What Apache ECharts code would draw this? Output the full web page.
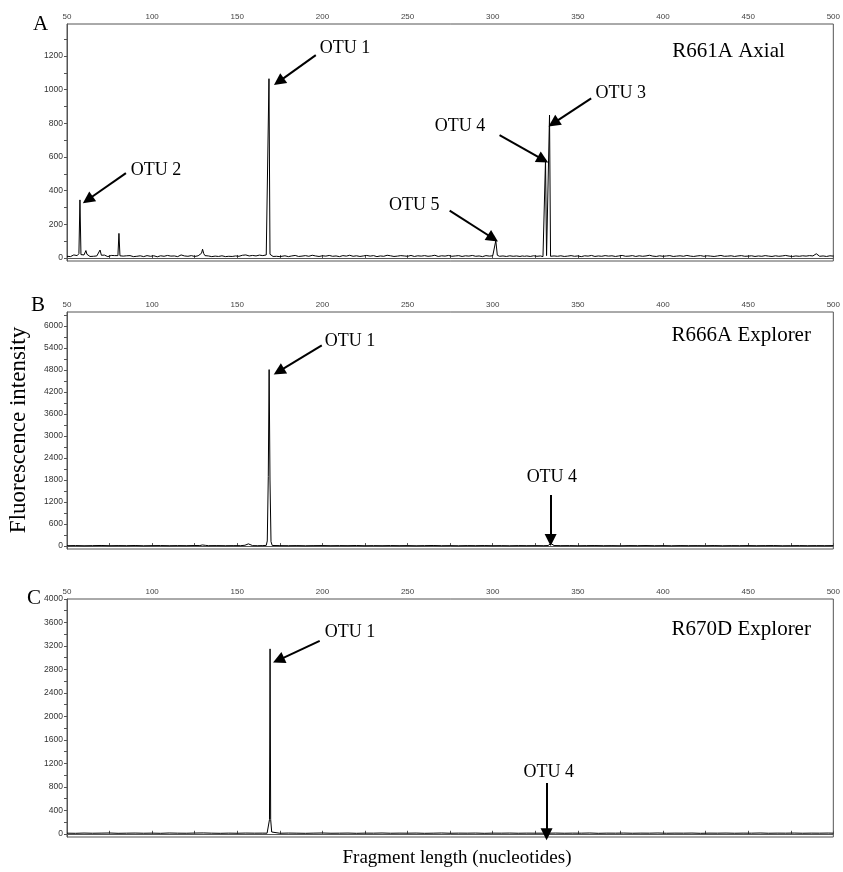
<!DOCTYPE html>
<html><head><meta charset="utf-8">
<script src="https://cdn.jsdelivr.net/npm/echarts@6/dist/echarts.min.js"></script>
<style>html,body{margin:0;padding:0;background:#fff}#c{width:843px;height:872px}</style>
</head><body><div id="c"></div><script>
// ---- data (fragment length in nt, fluorescence intensity) ----
const xTickValues = [50,75,100,125,150,175,200,225,250,275,300,325,350,375,400,425,450,475,500];
const xLabelValues = [50,100,150,200,250,300,350,400,450,500];
const yLabelsA = [0,200,400,600,800,1000,1200];
const yTicksA = [0,100,200,300,400,500,600,700,800,900,1000,1100,1200,1300];
const yLabelsB = [0,600,1200,1800,2400,3000,3600,4200,4800,5400,6000];
const yTicksB = [0,300,600,900,1200,1500,1800,2100,2400,2700,3000,3300,3600,3900,4200,4500,4800,5100,5400,5700,6000,6300];
const yLabelsC = [0,400,800,1200,1600,2000,2400,2800,3200,3600,4000];
const yTicksC = [0,200,400,600,800,1000,1200,1400,1600,1800,2000,2200,2400,2600,2800,3000,3200,3400,3600,3800,4000];

const traceA = [[50,10],[51,16],[52,8],[53,12],[54,18],[55,10],[56,14],[57,26],[57.6,345],[58.2,20],[59,12],[60,18],[60.6,28],[61.1,44],[61.7,22],[62.5,12],[63.5,9],[64.5,15],[65.5,10],[66.5,18],[67.5,12],[68.6,20],[69.4,47],[70.2,16],[71,10],[72,17],[73,12],[74,8],[75,18],[76,15],[77,10],[78,14],[79,9],[79.9,14],[80.5,146],[81.1,13],[82,7],[83,11],[84,9],[85,13],[86,10],[87,14],[88,11],[89,8],[90,14],[91,10],[92,9],[93,13],[94,12],[95,8],[96,11],[97,14],[98,16],[99,10],[100,9],[101,13],[102,11],[103,7],[104,9],[105,13],[106,14],[107,10],[108,11],[109,15],[110,16],[111,11],[112,9],[113,12],[114,12],[115,8],[116,9],[117,18],[118,9],[119,12],[120,13],[121,10],[122,11],[123,14],[124,13],[125,9],[126,10],[127,13],[128,20],[129,28],[129.6,52],[130.3,26],[131,14],[132,9],[133,12],[134,11],[135,8],[136,7],[137,11],[138,11],[139,9],[140,9],[141,13],[142,12],[143,8],[144,7],[145,10],[146,11],[147,9],[148,9],[149,12],[150,13],[151,10],[152,11],[153,16],[154,20],[155,18],[156,14],[157,12],[158,11],[159,15],[160,16],[161,12],[162,13],[163,17],[164,18],[165,14],[166,15],[167,18],[168,26],[168.6,1065],[169.2,22],[170,11],[171,9],[172,7],[173,10],[174,12],[175,8],[176,10],[178,13],[180,8],[182,12],[184,15],[186,9],[188,11],[190,14],[192,10],[194,16],[196,12],[198,9],[200,13],[202,11],[204,15],[206,10],[208,12],[210,8],[212,14],[214,11],[216,16],[218,10],[220,13],[222,9],[224,12],[226,15],[228,11],[230,14],[232,8],[234,12],[236,10],[238,16],[240,13],[242,9],[244,11],[246,14],[248,12],[250,10],[252,15],[254,9],[256,13],[258,11],[260,14],[262,10],[264,12],[266,16],[268,9],[270,13],[272,11],[274,15],[276,10],[278,12],[280,14],[282,9],[284,13],[286,11],[288,15],[290,10],[292,12],[294,8],[296,14],[298,11],[300,13],[300.9,18],[301.8,103],[302.7,16],[304,10],[306,12],[308,9],[310,13],[312,10],[314,12],[316,9],[317.3,12],[318,22],[318.7,10],[320,12],[322,9],[324,13],[326,10],[328,12],[329.5,8],[330.4,12],[331,586],[331.6,14],[332.2,6],[332.75,14],[333.35,849],[333.95,10],[334.6,6],[336,12],[338,10],[340,13],[342,9],[344,11],[346,14],[348,10],[350,12],[352,8],[354,13],[356,11],[358,15],[360,9],[362,12],[364,10],[366,14],[368,11],[370,13],[372,9],[374,12],[376,15],[378,10],[380,11],[382,14],[384,9],[386,13],[388,10],[390,12],[392,16],[394,11],[396,9],[398,13],[400,10],[402,12],[404,14],[406,9],[408,11],[410,13],[412,10],[414,15],[416,11],[418,9],[420,12],[422,14],[424,10],[426,13],[428,11],[430,9],[432,12],[434,15],[436,10],[438,11],[440,13],[442,9],[444,12],[446,14],[448,10],[450,11],[452,13],[454,9],[456,12],[458,10],[460,14],[462,11],[464,9],[466,13],[468,10],[470,12],[472,15],[474,11],[476,9],[478,12],[480,10],[482,13],[484,11],[486,14],[488,12],[489,18],[490,25],[491,14],[492,10],[494,12],[496,9],[498,13],[500,11]];

const traceB = [[50,10],[55,14],[60,9],[65,12],[70,16],[75,10],[80,13],[85,11],[90,15],[95,9],[100,12],[105,14],[110,10],[115,13],[120,11],[125,15],[128,14],[129.5,30],[130.3,45],[131.2,20],[133,11],[138,13],[143,10],[148,12],[152,11],[154.5,22],[155.6,55],[156.5,60],[157.5,24],[159,12],[162,10],[165,13],[167,18],[167.6,140],[168.2,1900],[168.7,4810],[169.2,1800],[169.8,120],[170.5,16],[175,12],[180,10],[185,13],[190,9],[195,12],[200,14],[205,10],[210,13],[215,11],[220,15],[225,9],[230,12],[235,10],[240,14],[245,11],[250,13],[255,9],[260,12],[265,15],[270,10],[275,12],[280,9],[285,13],[290,11],[295,14],[300,10],[305,12],[310,9],[315,13],[320,11],[325,12],[330,10],[332.5,14],[333.5,45],[334.2,70],[335,40],[336,14],[340,11],[345,13],[350,9],[355,12],[360,14],[365,10],[370,12],[375,9],[380,13],[385,11],[390,14],[395,10],[400,12],[405,9],[410,13],[415,11],[420,12],[425,10],[430,14],[435,9],[440,12],[445,11],[450,13],[455,10],[460,12],[465,14],[470,9],[475,11],[480,13],[485,10],[490,12],[495,11],[500,13]];

const traceC = [[50,10],[55,8],[60,12],[65,9],[70,11],[75,13],[80,8],[85,10],[90,12],[95,9],[100,11],[105,8],[110,13],[115,10],[120,9],[125,12],[130,14],[135,10],[140,8],[145,11],[150,9],[155,12],[160,10],[165,11],[167.5,10],[168.3,40],[168.9,240],[169.25,3150],[169.6,240],[170.2,30],[171,10],[175,9],[180,12],[185,10],[190,8],[195,11],[200,13],[205,9],[210,10],[215,12],[220,8],[225,11],[230,10],[235,13],[240,9],[245,11],[250,10],[255,12],[260,8],[265,10],[270,13],[275,9],[280,11],[285,10],[290,12],[295,8],[300,11],[305,10],[310,12],[315,9],[320,11],[325,10],[330.5,10],[331.2,25],[331.7,35],[332.3,22],[333,10],[337,12],[342,9],[347,11],[352,10],[357,13],[362,8],[367,11],[372,10],[377,12],[382,9],[387,11],[392,10],[397,13],[402,9],[407,11],[412,10],[417,12],[422,8],[427,11],[432,10],[437,12],[442,9],[447,11],[452,10],[457,13],[462,9],[467,11],[472,10],[477,12],[482,9],[487,11],[492,10],[497,12],[500,10]];

// annotation text / arrow anchors in data coordinates
const annotA = [
  {text:'OTU 1', at:[198.4,1246], from:[196.1,1205], to:[174.4,1048]},
  {text:'OTU 2', at:[87.4,522], from:[84.6,504], to:[62.2,346]},
  {text:'OTU 5', at:[239.1,315], from:[274.7,281], to:[300.1,117]},
  {text:'OTU 4', at:[265.9,783], from:[304.0,730], to:[329.5,584]},
  {text:'OTU 3', at:[360.4,977], from:[357.8,948], to:[335.7,801]}
];
const annotB = [
  {text:'OTU 1', at:[201.4,5581], from:[199.6,5472], to:[174.4,4761]},
  {text:'OTU 4', at:[319.9,1888], from:[334.0,1395], to:[334.0,164]}
];
const annotC = [
  {text:'OTU 1', at:[201.4,3425], from:[198.4,3288], to:[174.2,2960]},
  {text:'OTU 4', at:[318.1,1053], from:[331.6,865], to:[331.6,-10]}
];
const panelNames = ['R661A Axial','R666A Explorer','R670D Explorer'];
const panelNamePos = [[405.4,1224],[405.0,5746],[405.0,3476]];
const panelLetters = ['A','B','C'];

// ---- chart ----
const chart = echarts.init(document.getElementById('c'), null, {renderer:'canvas'});
const grids = [
  {left:67, top:24, width:767, height:237},
  {left:67, top:312, width:767, height:237},
  {left:67, top:599, width:767, height:238}
];
const letterPos = [[33,24],[31,305],[27,598]];
const yCfg = [
  {min:-18, max:1390, labels:yLabelsA, ticks:yTicksA},
  {min:-80, max:6380, labels:yLabelsB, ticks:yTicksB},
  {min:-55, max:4000, labels:yLabelsC, ticks:yTicksC}
];
const traces = [traceA, traceB, traceC];
const annots = [annotA, annotB, annotC];
const axisColor = '#555';
const arrowPath = 'path://M0,0 L6,14 L-6,14 Z';

const option = {
  animation:false,
  backgroundColor:'#fff',
  grid: grids.map(g => Object.assign({show:true, borderColor:axisColor, borderWidth:1, backgroundColor:'transparent'}, g)),
  xAxis: grids.map((g,i) => ({
    type:'value', gridIndex:i, position:'top', min:50, max:500,
    axisLine:{show:true, lineStyle:{color:axisColor, width:1}},
    axisTick:{show:true, length:3, customValues:xTickValues, lineStyle:{color:axisColor}},
    axisLabel:{show:true, customValues:xLabelValues, fontSize:8, color:'#444', margin:3, fontFamily:'Liberation Sans', formatter:v => String(v)},
    splitLine:{show:false}
  })),
  yAxis: yCfg.map((c,i) => ({
    type:'value', gridIndex:i, min:c.min, max:c.max,
    axisLine:{show:true, lineStyle:{color:axisColor, width:1}},
    axisTick:{show:true, length:3, customValues:c.ticks, lineStyle:{color:axisColor}},
    axisLabel:{show:true, customValues:c.labels, fontSize:8.5, color:'#333', margin:4, fontFamily:'Liberation Sans', formatter:v => String(v)},
    splitLine:{show:false}
  })),
  series: traces.map((t,i) => ({
    type:'line', xAxisIndex:i, yAxisIndex:i, data:t,
    symbol:'none', showSymbol:false, silent:true,
    lineStyle:{color:'#000', width:1},
    markLine:{
      silent:true, animation:false,
      symbol:['none', arrowPath], symbolSize:12,
      label:{show:false},
      lineStyle:{color:'#000', width:2, type:'solid'},
      emphasis:{disabled:true},
      data: annots[i].map(a => [{coord:a.from},{coord:a.to}])
    }
  }))
};
chart.setOption(option);

const serif = '"Liberation Serif","DejaVu Serif",serif';
const graphics = [];
annots.forEach((list,i) => {
  list.forEach(a => {
    const p = chart.convertToPixel({xAxisIndex:i, yAxisIndex:i}, a.at);
    graphics.push({type:'text', x:p[0], y:p[1], silent:true,
      style:{text:a.text, font:'18px '+serif, fill:'#000', textAlign:'left', textVerticalAlign:'middle'}});
  });
  const q = chart.convertToPixel({xAxisIndex:i, yAxisIndex:i}, panelNamePos[i]);
  graphics.push({type:'text', x:q[0], y:q[1], silent:true,
    style:{text:panelNames[i], font:'21px '+serif, fill:'#000', textAlign:'left', textVerticalAlign:'middle'}});
  graphics.push({type:'text', x:letterPos[i][0], y:letterPos[i][1], silent:true,
    style:{text:panelLetters[i], font:'21px '+serif, fill:'#000', textAlign:'left', textVerticalAlign:'middle'}});
});
graphics.push({type:'text', x:19, y:430, rotation:Math.PI/2, silent:true,
  style:{text:'Fluorescence intensity', font:'23px '+serif, fill:'#000', textAlign:'center', textVerticalAlign:'middle'}});
graphics.push({type:'text', x:457, y:858, silent:true,
  style:{text:'Fragment length (nucleotides)', font:'19px '+serif, fill:'#000', textAlign:'center', textVerticalAlign:'middle'}});
chart.setOption({graphic:graphics});
</script></body></html>
